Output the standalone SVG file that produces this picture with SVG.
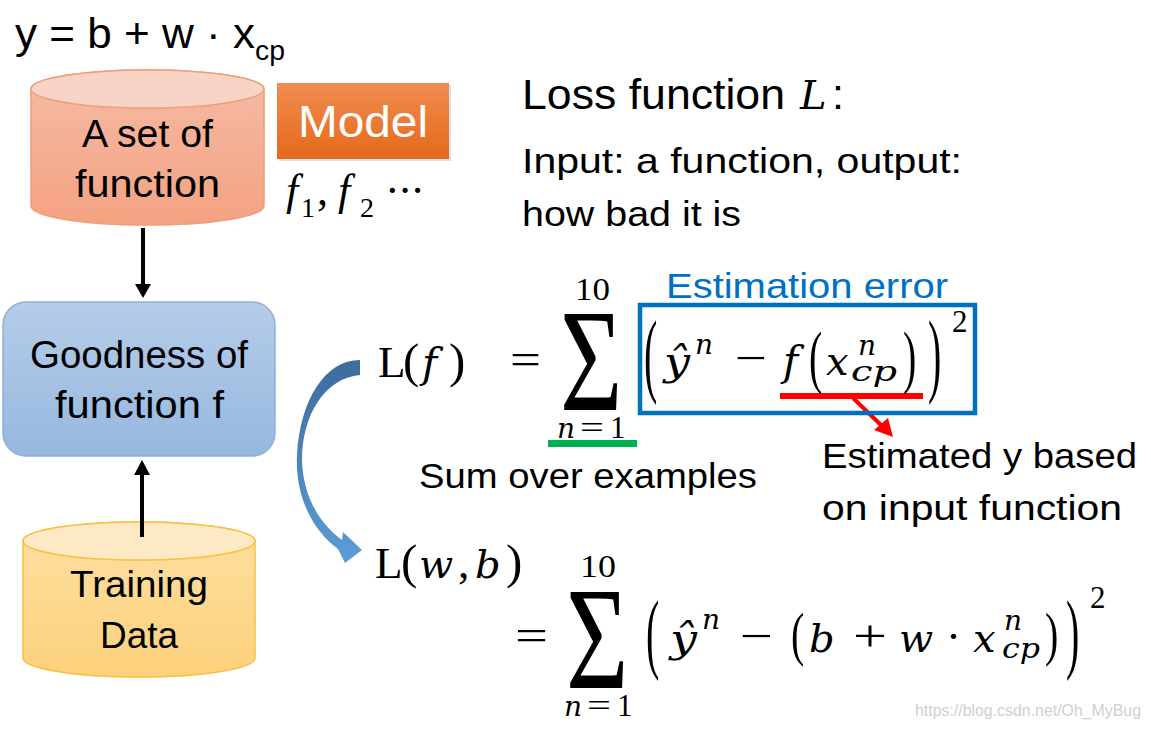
<svg xmlns="http://www.w3.org/2000/svg" width="1151" height="731" viewBox="0 0 1151 731">
<defs>
<linearGradient id="gSet" x1="0" y1="0" x2="0" y2="1"><stop offset="0" stop-color="#f5bba6"/><stop offset="1" stop-color="#f4a281"/></linearGradient>
<linearGradient id="gTrain" x1="0" y1="0" x2="0" y2="1"><stop offset="0" stop-color="#fedfa2"/><stop offset="1" stop-color="#fcd17c"/></linearGradient>
<linearGradient id="gGood" x1="0" y1="0" x2="0" y2="1"><stop offset="0" stop-color="#b5cce9"/><stop offset="1" stop-color="#97b8df"/></linearGradient>
<linearGradient id="gModel" x1="0" y1="0" x2="0" y2="1"><stop offset="0" stop-color="#f08c50"/><stop offset="1" stop-color="#e4691a"/></linearGradient>
<linearGradient id="gCurve" x1="0" y1="0" x2="0" y2="1"><stop offset="0" stop-color="#3d6c9e"/><stop offset="1" stop-color="#5b9cd8"/></linearGradient>
</defs>
<style>
.s{font-family:"Liberation Sans",Arial,sans-serif;fill:#000}
.m{font-family:"Liberation Serif","Times New Roman",serif;fill:#000}
.v{font-family:"DejaVu Serif","Liberation Serif",serif;font-style:italic;fill:#000}
</style>
<rect width="1151" height="731" fill="#fff"/>

<g id="model-eq">
<text class="s" x="15" y="48" font-size="43" textLength="240" lengthAdjust="spacingAndGlyphs">y = b + w · x</text>
<text class="s" x="255" y="60" font-size="28" textLength="30" lengthAdjust="spacingAndGlyphs">cp</text>
</g>

<g id="set-of-function">
<path d="M31,89 A116.5,19 0 0 1 264,89 V206 A116.5,19 0 0 1 31,206 Z" fill="url(#gSet)" stroke="#ef9e78" stroke-width="1.5"/>
<ellipse cx="147.5" cy="89" rx="116.5" ry="19" fill="#f8d4c6" stroke="#ef9e78" stroke-width="1.5"/>
<text class="s" x="82" y="147" font-size="38" textLength="131" lengthAdjust="spacingAndGlyphs">A set of</text>
<text class="s" x="75" y="197" font-size="38" textLength="145" lengthAdjust="spacingAndGlyphs">function</text>
</g>

<g id="model">
<rect x="279" y="85" width="172" height="76" fill="#000" opacity="0.12"/>
<rect x="277" y="83" width="172" height="76" fill="url(#gModel)"/>
<text class="s" x="298" y="137" font-size="44" style="fill:#fff" textLength="130" lengthAdjust="spacingAndGlyphs">Model</text>
</g>

<g id="f-list">
<text class="m" x="286" y="205" font-size="44" font-style="italic">f</text>
<text class="m" x="301" y="217" font-size="28">1</text>
<text class="m" x="317" y="205" font-size="44">,</text>
<text class="m" x="338" y="205" font-size="44" font-style="italic">f</text>
<text class="m" x="360" y="217" font-size="28">2</text>
<text class="m" x="385" y="205" font-size="44" textLength="40" lengthAdjust="spacing">···</text>
</g>

<g id="goodness">
<rect x="3" y="302" width="272" height="154" rx="23" fill="url(#gGood)" stroke="#8db0dd" stroke-width="1.5"/>
<text class="s" x="30" y="368" font-size="38" textLength="218" lengthAdjust="spacingAndGlyphs">Goodness of</text>
<text class="s" x="55" y="418" font-size="38" textLength="169" lengthAdjust="spacingAndGlyphs">function f</text>
</g>

<g id="training-data">
<path d="M23,541 A116,19 0 0 1 255,541 V658 A116,19 0 0 1 23,658 Z" fill="url(#gTrain)" stroke="#f9c03e" stroke-width="1.5"/>
<ellipse cx="139" cy="541" rx="116" ry="19" fill="#fde9c4" stroke="#f9c03e" stroke-width="1.5"/>
<text class="s" x="70" y="597" font-size="37" textLength="138" lengthAdjust="spacingAndGlyphs">Training</text>
<text class="s" x="100" y="648" font-size="37" textLength="78" lengthAdjust="spacingAndGlyphs">Data</text>
</g>

<g id="connectors">
<line x1="143" y1="228" x2="143" y2="286" stroke="#000" stroke-width="4"/>
<polygon points="135,284 151,284 143,298" fill="#000"/>
<line x1="142" y1="537" x2="142" y2="472" stroke="#000" stroke-width="4"/>
<polygon points="134,475 150,475 142,460" fill="#000"/>
<path d="M360,360 C325,360 300,400 297,455 C295,500 315,532 338,549 L345,563 L362,550 L343,532 L342,540 C318,522 303,495 302,460 C302,415 325,378 360,375 Z" fill="url(#gCurve)"/>
<line x1="780" y1="396" x2="923" y2="396" stroke="#ff0000" stroke-width="6"/>
<line x1="853" y1="398" x2="882" y2="426" stroke="#ff0000" stroke-width="4"/>
<polygon points="874,430 888,418 893,437" fill="#ff0000"/>
<rect x="548" y="440" width="89" height="7" fill="#00b050"/>
</g>

<g id="loss-title">
<text class="s" x="522" y="109" font-size="43" textLength="263" lengthAdjust="spacingAndGlyphs">Loss function</text>
<text class="v" x="800" y="109" font-size="40">L</text>
<text class="s" x="832" y="109" font-size="43">:</text>
<text class="s" x="522" y="173" font-size="35" textLength="440" lengthAdjust="spacingAndGlyphs">Input: a function, output:</text>
<text class="s" x="522" y="226" font-size="35" textLength="219" lengthAdjust="spacingAndGlyphs">how bad it is</text>
</g>

<g id="loss-f">
<text class="m" x="378" y="377" font-size="45">L</text>
<text class="m" x="403" y="377" font-size="49">(</text>
<text class="v" x="422" y="377" font-size="41">f</text>
<text class="m" x="449" y="377" font-size="49">)</text>
<text class="m" x="510" y="374" font-size="45" textLength="31" lengthAdjust="spacingAndGlyphs">=</text>
<text class="m" font-size="147" transform="translate(560,410) scale(0.73,1)">Σ</text>
<text class="m" x="575" y="300" font-size="31" textLength="35" lengthAdjust="spacingAndGlyphs">10</text>
<text class="v" x="557" y="438" font-size="28">n</text>
<text class="m" x="580" y="438" font-size="31" textLength="24" lengthAdjust="spacingAndGlyphs">=</text>
<text class="m" x="610" y="438" font-size="31">1</text>
<text class="s" x="666" y="298" font-size="35" style="fill:#0070c0" textLength="282" lengthAdjust="spacingAndGlyphs">Estimation error</text>
<rect x="640" y="305" width="335" height="108" fill="none" stroke="#0070c0" stroke-width="4.5"/>
<text class="m" font-size="40" transform="translate(644,385) scale(1,2.35)">(</text>
<text class="v" x="664" y="375" font-size="40" textLength="26" lengthAdjust="spacingAndGlyphs">ŷ</text>
<text class="v" x="695" y="354" font-size="28">n</text>
<text class="m" x="735" y="373" font-size="45" textLength="32" lengthAdjust="spacingAndGlyphs">−</text>
<text class="v" x="783" y="375" font-size="41">f</text>
<text class="m" font-size="40" transform="translate(809,380) scale(1,1.72)">(</text>
<text class="v" x="826" y="375" font-size="40">x</text>
<text class="v" x="858" y="355" font-size="28">n</text>
<text class="v" x="851" y="381" font-size="28" textLength="46" lengthAdjust="spacingAndGlyphs">cp</text>
<text class="m" font-size="40" transform="translate(903,380) scale(1,1.72)">)</text>
<text class="m" font-size="40" transform="translate(928,385) scale(1,2.35)">)</text>
<text class="m" x="952" y="332" font-size="31">2</text>
</g>

<g id="annotations">
<text class="s" x="419" y="488" font-size="35" textLength="338" lengthAdjust="spacingAndGlyphs">Sum over examples</text>
<text class="s" x="822" y="468" font-size="35" textLength="315" lengthAdjust="spacingAndGlyphs">Estimated y based</text>
<text class="s" x="822" y="520" font-size="35" textLength="300" lengthAdjust="spacingAndGlyphs">on input function</text>
</g>

<g id="loss-wb">
<text class="m" x="375" y="578" font-size="45">L</text>
<text class="m" x="401" y="578" font-size="49">(</text>
<text class="v" x="419" y="578" font-size="40">w</text>
<text class="m" x="458" y="578" font-size="45">,</text>
<text class="v" x="475" y="578" font-size="40">b</text>
<text class="m" x="506" y="578" font-size="49">)</text>
<text class="m" x="515" y="650" font-size="45" textLength="33" lengthAdjust="spacingAndGlyphs">=</text>
<text class="m" font-size="147" transform="translate(566,688) scale(0.73,1)">Σ</text>
<text class="m" x="580" y="577" font-size="31" textLength="36" lengthAdjust="spacingAndGlyphs">10</text>
<text class="v" x="564" y="716" font-size="28">n</text>
<text class="m" x="587" y="716" font-size="31" textLength="24" lengthAdjust="spacingAndGlyphs">=</text>
<text class="m" x="617" y="716" font-size="31">1</text>
<text class="m" font-size="40" transform="translate(646,662) scale(1,2.24)">(</text>
<text class="v" x="670" y="652" font-size="40" textLength="27" lengthAdjust="spacingAndGlyphs">ŷ</text>
<text class="v" x="702" y="629" font-size="28">n</text>
<text class="m" x="740" y="651" font-size="45" textLength="33" lengthAdjust="spacingAndGlyphs">−</text>
<text class="m" font-size="40" transform="translate(791,654) scale(1,1.49)">(</text>
<text class="v" x="809" y="652" font-size="40">b</text>
<text class="m" x="853" y="651" font-size="45" textLength="34" lengthAdjust="spacingAndGlyphs">+</text>
<text class="v" x="899" y="652" font-size="40">w</text>
<text class="m" x="946" y="651" font-size="45">·</text>
<text class="v" x="973" y="652" font-size="40">x</text>
<text class="v" x="1004" y="630" font-size="28">n</text>
<text class="v" x="1002" y="658" font-size="28" textLength="38" lengthAdjust="spacingAndGlyphs">cp</text>
<text class="m" font-size="40" transform="translate(1045,654) scale(1,1.49)">)</text>
<text class="m" font-size="40" transform="translate(1066,662) scale(1,2.24)">)</text>
<text class="m" x="1090" y="608" font-size="31">2</text>
</g>

<text class="s" x="915" y="716" font-size="16" style="fill:#cfcfcf" textLength="226" lengthAdjust="spacingAndGlyphs">https://blog.csdn.net/Oh_MyBug</text>
</svg>
